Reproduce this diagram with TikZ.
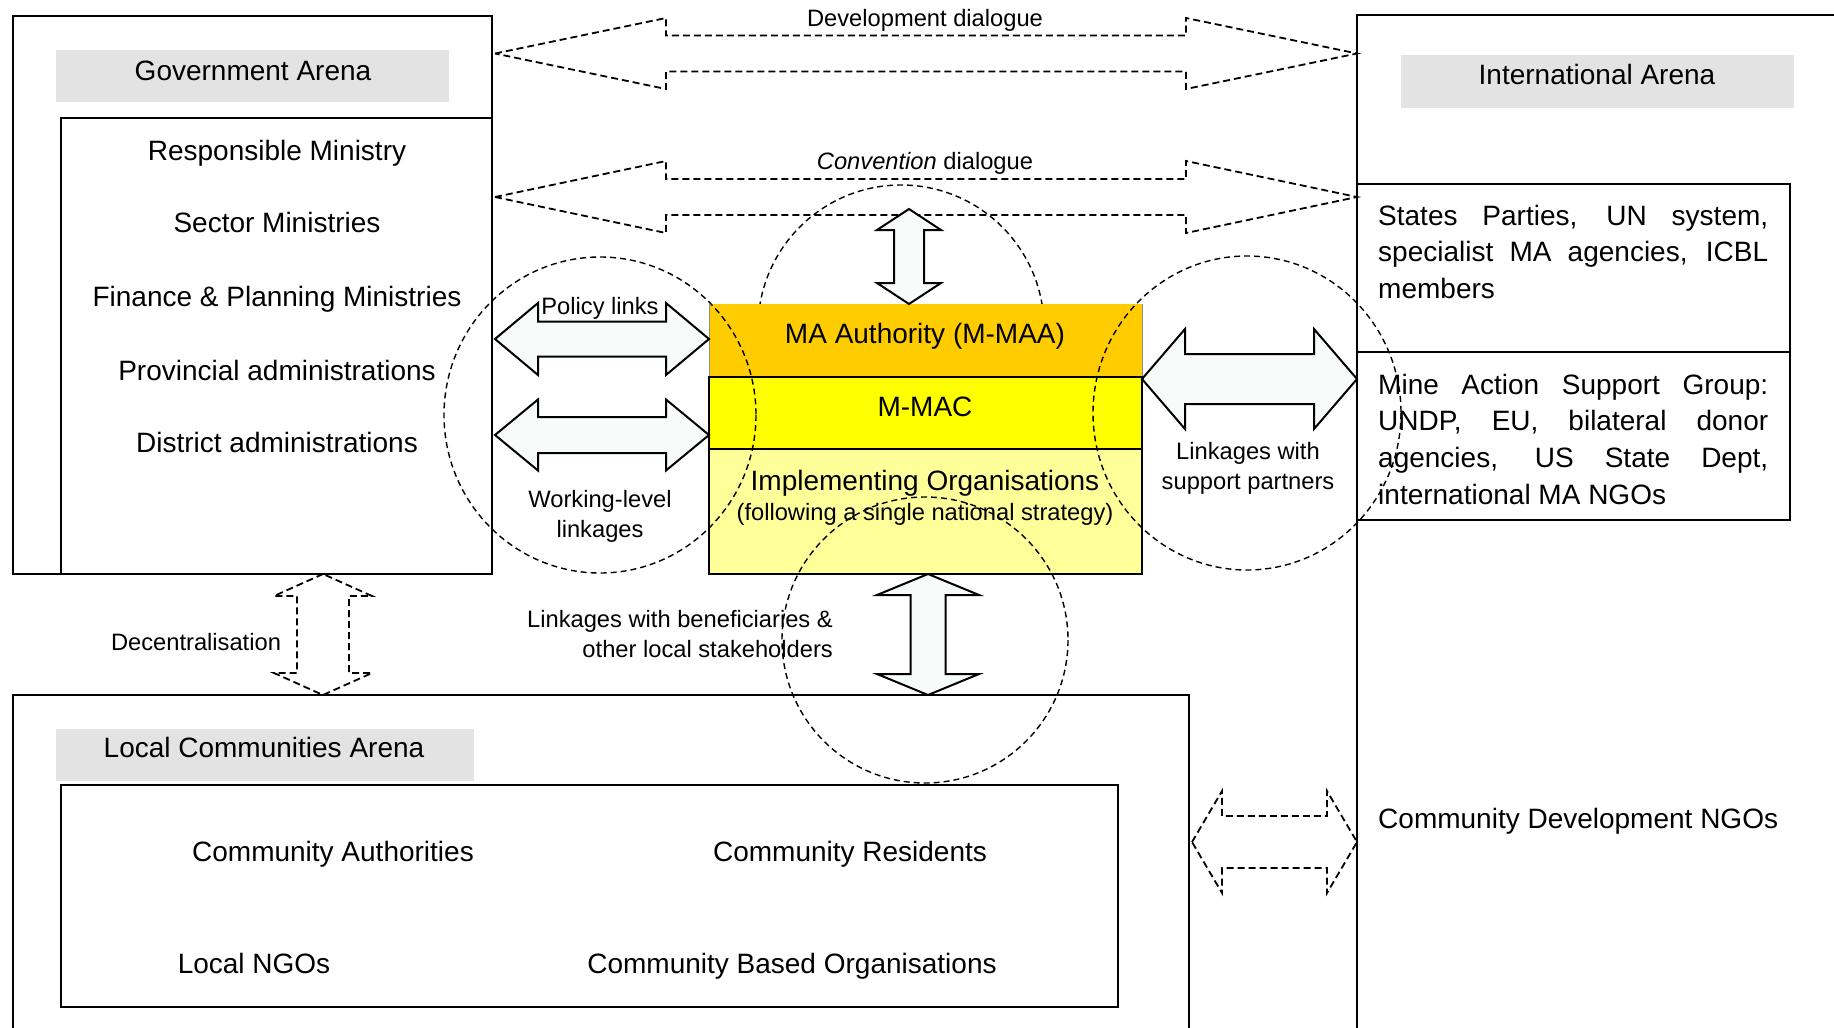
\documentclass[tikz,border=0pt]{standalone}
\usepackage{fontspec}
\setmainfont{Liberation Sans}
\definecolor{labgray}{RGB}{227,227,227}
\definecolor{maaorange}{RGB}{255,204,0}
\definecolor{macyellow}{RGB}{255,255,0}
\definecolor{implyellow}{RGB}{255,255,153}
\definecolor{arrowfill}{RGB}{247,251,250}
% horizontal double arrow: style, xleft, xright, y, head length, head half-height, shaft half-height
\newcommand\hdarr[7]{%
 \draw[#1] (#2,#4) -- ({#2+#5},{#4-#6}) -- ({#2+#5},{#4-#7}) -- ({#3-#5},{#4-#7}) -- ({#3-#5},{#4-#6}) -- (#3,#4) -- ({#3-#5},{#4+#6}) -- ({#3-#5},{#4+#7}) -- ({#2+#5},{#4+#7}) -- ({#2+#5},{#4+#6}) -- cycle;}
% vertical double arrow: style, ytop, ybottom, x, head length, head half-width, shaft half-width
\newcommand\vdarr[7]{%
 \draw[#1] (#4,#2) -- ({#4-#6},{#2+#5}) -- ({#4-#7},{#2+#5}) -- ({#4-#7},{#3-#5}) -- ({#4-#6},{#3-#5}) -- (#4,#3) -- ({#4+#6},{#3-#5}) -- ({#4+#7},{#3-#5}) -- ({#4+#7},{#2+#5}) -- ({#4+#6},{#2+#5}) -- cycle;}
\begin{document}
\begin{tikzpicture}[x=1pt,y=-1pt,
 box/.style={draw=black,line width=2pt},
 big/.style={font=\fontsize{28}{34}\selectfont, inner sep=0pt},
 small/.style={font=\fontsize{23.7}{29}\selectfont, inner sep=0pt},
 dsharr/.style={draw=black, dash pattern=on 7pt off 4pt, line width=1.8pt},
 solarr/.style={draw=black, fill=arrowfill, line width=2pt},
 circ/.style={draw=black, dash pattern=on 6pt off 4pt, line width=1.4pt}]
\useasboundingbox (0,0) rectangle (1834,1028);
\clip (0,0) rectangle (1834,1028);
\fill[white] (0,0) rectangle (1834,1028);

% circle behind the central stack
\draw[circ] (901,328) ellipse [x radius=143, y radius=143];

% ---------------- Government arena
\draw[box] (13,16) rectangle (492,574);
\fill[labgray] (56,50) rectangle (449,102);
\node[big, anchor=base] (govt) at (253,80) {Government Arena};
\draw[box] (61,118) rectangle (492,574);
\node[big, anchor=base] (g1) at (277,160) {Responsible Ministry};
\node[big, anchor=base] (g2) at (277,232) {Sector Ministries};
\node[big, anchor=base] (g3) at (277,306) {Finance \& Planning Ministries};
\node[big, anchor=base] (g4) at (277,380) {Provincial administrations};
\node[big, anchor=base] (g5) at (277,452) {District administrations};

% ---------------- International arena
\draw[box] (1357,1100) -- (1357,15) -- (1900,15);
\fill[labgray] (1401,55) rectangle (1794,108);
\node[big, anchor=base] (intt) at (1597,84) {International Arena};
\draw[box] (1357,184) rectangle (1790,352);
\draw[box] (1357,352) rectangle (1790,520);
\node[big, anchor=base west] (i1) at (1378,225) {\makebox[390pt][s]{States Parties, UN system,}};
\node[big, anchor=base west] (i2) at (1378,261) {\makebox[390pt][s]{specialist MA agencies, ICBL}};
\node[big, anchor=base west] (i3) at (1378,298) {members};
\node[big, anchor=base west] (i4) at (1378,394) {\makebox[390pt][s]{Mine Action Support Group:}};
\node[big, anchor=base west] (i5) at (1378,430) {\makebox[390pt][s]{UNDP, EU, bilateral donor}};
\node[big, anchor=base west] (i6) at (1378,467) {\makebox[390pt][s]{agencies, US State Dept,}};
\node[big, anchor=base west] (i7) at (1378,504) {international MA NGOs};
\node[big, anchor=base west] (cdngo) at (1378,828) {Community Development NGOs};

% ---------------- Local communities arena
\draw[box] (13,1100) -- (13,695) -- (1189,695) -- (1189,1100);
\fill[labgray] (56,729) rectangle (474,781);
\node[big, anchor=base] (loct) at (264,757) {Local Communities Arena};
\draw[box] (61,785) rectangle (1118,1007);
\node[big, anchor=base] (l1) at (333,861) {Community Authorities};
\node[big, anchor=base] (l2) at (850,861) {Community Residents};
\node[big, anchor=base] (l3) at (254,973) {Local NGOs};
\node[big, anchor=base] (l4) at (792,973) {Community Based Organisations};

% ---------------- Central stack
\fill[maaorange] (709,304) rectangle (1142,377);
\draw[line width=0.6pt, black!45] (709,377) -- (709,304) (1142,304) -- (1142,377);
\draw[box, fill=macyellow] (709,377) rectangle (1142,449);
\draw[box, fill=implyellow] (709,449) rectangle (1142,574);
\node[big, anchor=base] (maa) at (925,343) {MA Authority (M-MAA)};
\node[big, anchor=base] (mac) at (925,416) {M-MAC};
\node[big, anchor=base] (imp) at (925,490) {Implementing Organisations};
\node[small, anchor=base] (imp2) at (925,520) {(following a single national strategy)};

% ---------------- Dialogue arrows (dashed)
\hdarr{dsharr}{495}{1357}{53.5}{171}{35.5}{18}
\node[small, anchor=base] (devd) at (925,26) {Development dialogue};
\hdarr{dsharr}{495}{1357}{197}{171}{36}{18}
\node[small, anchor=base] (convd) at (925,169.5) {{\itshape Convention} dialogue};

% Decentralisation
\vdarr{dsharr}{574}{695}{323}{22}{49}{26}
\node[small, anchor=base] (dec) at (196,650.5) {Decentralisation};

% Community development NGOs link
\hdarr{dsharr}{1192}{1357}{842}{30}{51}{26}

% ---------------- Solid arrows
\hdarr{solarr}{495}{709}{339}{43}{36}{17.5}
\node[small, anchor=base] (pol) at (600,314.5) {Policy links};
\hdarr{solarr}{495}{709}{435}{43}{35.5}{18}
\node[small, anchor=base] (wl1) at (600,507.5) {Working-level};
\node[small, anchor=base] (wl2) at (600,537.5) {linkages};

\hdarr{solarr}{1142}{1357}{379}{43}{50}{25}
\node[small, anchor=base] (sp1) at (1248,459.5) {Linkages with};
\node[small, anchor=base] (sp2) at (1248,489.5) {support partners};

\vdarr{solarr}{209}{304}{909}{21}{32}{15}
\vdarr{solarr}{574}{695}{928}{21}{51}{17.5}
\node[small, anchor=base east] (ben1) at (833,627.5) {Linkages with beneficiaries \&};
\node[small, anchor=base east] (ben2) at (833,657.5) {other local stakeholders};

% ---------------- Dashed circles on top
\draw[circ] (600,415) ellipse [x radius=156, y radius=158];
\draw[circ] (1247,413) ellipse [x radius=154, y radius=157];
\draw[circ] (925,640) ellipse [x radius=143, y radius=143];
\end{tikzpicture}
\end{document}
